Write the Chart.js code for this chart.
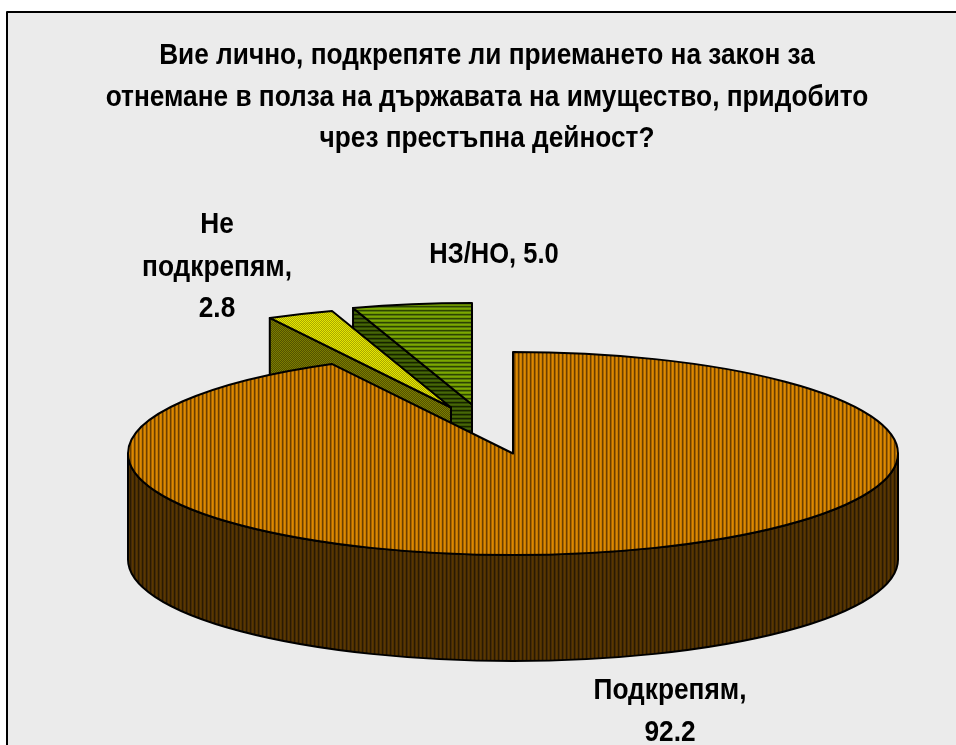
<!DOCTYPE html>
<html><head><meta charset="utf-8">
<script src="https://cdn.jsdelivr.net/npm/chart.js@4"></script>
<style>html,body{margin:0;padding:0;background:#fff;overflow:hidden}canvas{display:block}</style>
</head><body><canvas id="c" width="956" height="745" style="width:956px;height:745px"></canvas>
<script>
const titleLines = ["Вие лично, подкрепяте ли приемането на закон за","отнемане в полза на държавата на имущество, придобито","чрез престъпна дейност?"];
const categories = ["Подкрепям","Не подкрепям","НЗ/НО"];
const values = [92.2,2.8,5.0];
const labelLines = [["Подкрепям,","92.2"],["Не","подкрепям,","2.8"],["НЗ/НО, 5.0"]];

function pat(w,h,colors){const c=document.createElement('canvas');c.width=w;c.height=h;const x=c.getContext('2d');
 for(let j=0;j<h;j++)for(let i=0;i<w;i++){x.fillStyle=colors[j][i];x.fillRect(i,j,1,1);}
 return x.createPattern(c,'repeat');}
const ctx0=document.getElementById('c').getContext('2d');
const topFill=[
 pat(4,1,[['#dc8a00','#c87a00','#6a4000','#a46200']]),
 pat(2,2,[['#e6e600','#a8a800'],['#a8a800','#e6e600']]),
 pat(1,4,[['#7ba800'],['#6c9400'],['#2c4400'],['#55760a']])];
const sideFill=[
 pat(4,1,[['#5a3800','#4e3000','#2a1a00','#44290a']]),
 pat(2,2,[['#7c7c00','#525200'],['#525200','#7c7c00']]),
 pat(1,4,[['#46660a'],['#3c5800'],['#142200'],['#304800']])];

const RY=101.5/385, DEPTH=106;
const explode=[[0,0],[-62,-46],[-41,-49]];

const pie3d={id:'pie3d',
 beforeDatasetsDraw(chart){
  const ctx=chart.ctx, arcs=chart.getDatasetMeta(0).data;
  const geo=arcs.map((arc,i)=>{const p=arc.getProps(['x','y','startAngle','endAngle','outerRadius'],true);
    return {i,cx:p.x+explode[i][0],cy:p.y+explode[i][1],rx:p.outerRadius,ry:p.outerRadius*RY,s:p.startAngle,e:p.endAngle,top:arc.options.backgroundColor,side:sideFill[i]};});
  const pt=(g,a)=>[g.cx+g.rx*Math.cos(a),g.cy+g.ry*Math.sin(a)];
  const shape=(fill,build)=>{ctx.beginPath();build();ctx.closePath();ctx.fillStyle=fill;ctx.fill();ctx.lineWidth=2;ctx.strokeStyle='#000';ctx.lineJoin='round';ctx.stroke();};
  const wall=(g,a)=>{const q=pt(g,a);shape(g.side,()=>{ctx.moveTo(g.cx,g.cy);ctx.lineTo(q[0],q[1]);ctx.lineTo(q[0],q[1]+DEPTH);ctx.lineTo(g.cx,g.cy+DEPTH);});};
  const rim=(g,a0,a1)=>{if(a1<=a0)return;const q=pt(g,a1),r=pt(g,a0);shape(g.side,()=>{ctx.ellipse(g.cx,g.cy,g.rx,g.ry,0,a0,a1);ctx.lineTo(q[0],q[1]+DEPTH);ctx.ellipse(g.cx,g.cy+DEPTH,g.rx,g.ry,0,a1,a0,true);ctx.lineTo(r[0],r[1]);});};
  const top=g=>shape(g.top,()=>{ctx.moveTo(g.cx,g.cy);ctx.ellipse(g.cx,g.cy,g.rx,g.ry,0,g.s,g.e);});
  [2,1,0].forEach(i=>{const g=geo[i];
    if(i>0) wall(g,g.s);
    rim(g,Math.max(g.s,0),Math.min(g.e,Math.PI));
    top(g);});
  return false;
 },
 afterDraw(chart){
  const ctx=chart.ctx;
  ctx.save();ctx.strokeStyle='#000';ctx.lineWidth=2;ctx.strokeRect(7,12,960,760);
  ctx.fillStyle='#000';ctx.textAlign='center';ctx.textBaseline='alphabetic';ctx.font='bold 30px "Liberation Sans"';
  const draw=(lines,x,ys,k=0.875)=>lines.forEach((t,i)=>{ctx.save();ctx.translate(x,ys[i]);ctx.scale(k,1);ctx.fillText(t,0,0);ctx.restore();});
  draw(titleLines,487,[64,106,147]);
  draw(labelLines[0],670,[699,741]);
  draw(labelLines[1],217,[233,276,317]);
  draw(labelLines[2],494,[263],0.85);
  ctx.restore();
 }};
const bg={id:'bg',beforeDraw(chart){const c=chart.ctx;c.save();c.fillStyle='#ebebeb';c.fillRect(7,12,960,760);c.restore();}};

new Chart(ctx0,{type:'pie',
 data:{labels:categories,datasets:[{data:values,backgroundColor:topFill,borderWidth:0}]},
 plugins:[bg,pie3d],
 options:{responsive:false,animation:false,events:[],rotation:0,radius:385,
  layout:{padding:{left:128,right:58,top:162,bottom:0}},
  plugins:{legend:{display:false},tooltip:{enabled:false},title:{display:false}}}});
</script></body></html>
